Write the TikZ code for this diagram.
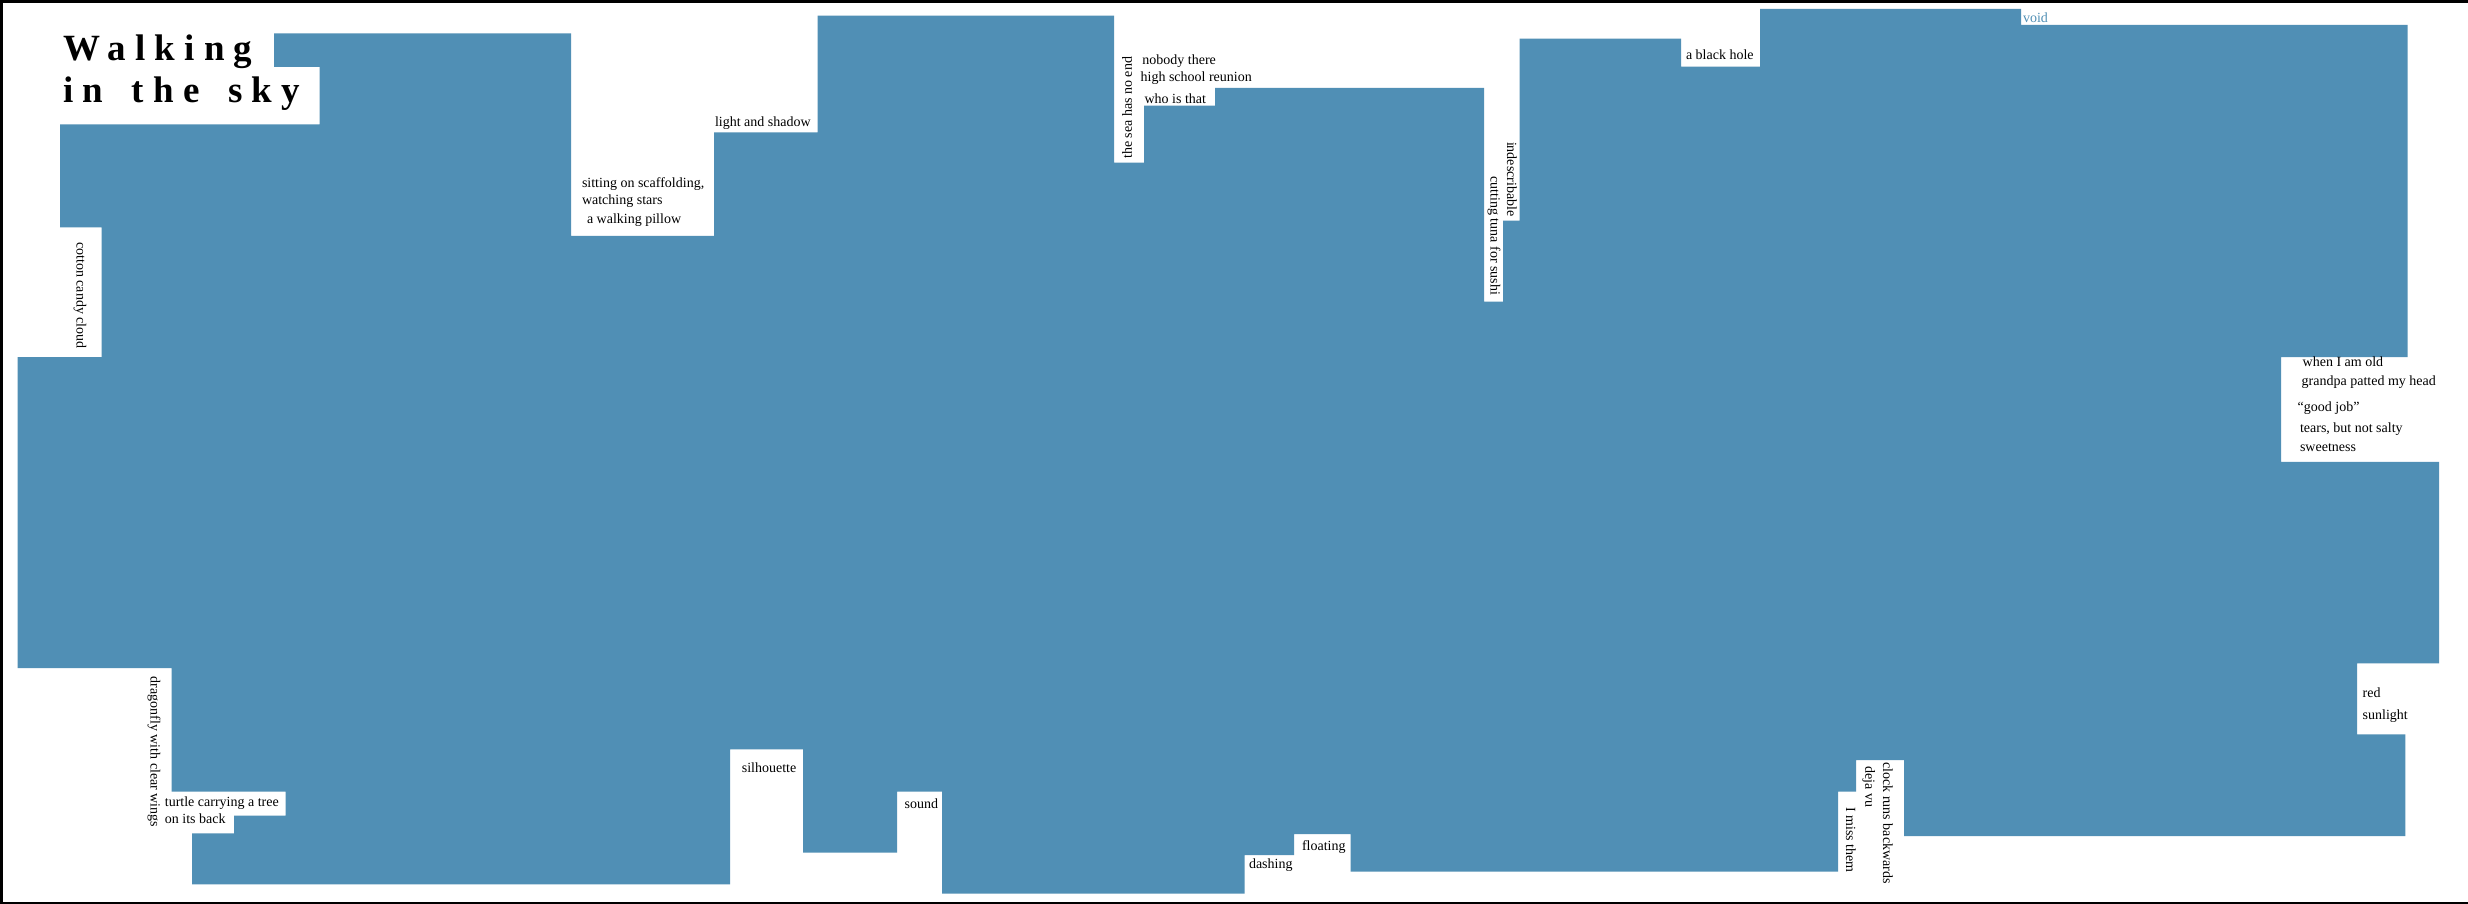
\documentclass[tikz,border=0pt]{standalone}
\usepackage{fontspec}
\setmainfont{Liberation Serif}
\newfontfamily\titlefont{Liberation Serif}[LetterSpace=25]
\definecolor{sky}{RGB}{80,143,181}
\begin{document}
\begin{tikzpicture}[x=1pt,y=-1pt,
  lbl/.style={inner sep=0pt, outer sep=0pt, font=\fontsize{14}{17}\selectfont, anchor=base west},
  vlbl/.style={inner sep=0pt, outer sep=0pt, font=\fontsize{14}{17}\selectfont, anchor=center},
  ttl/.style={inner sep=0pt, outer sep=0pt, font=\titlefont\bfseries\fontsize{37}{42}\selectfont, anchor=base west},
  frame/.style={draw=black, line width=3pt}]
\useasboundingbox (0,0) rectangle (2468,904);
\fill[white] (0,0) rectangle (2468,904);
% the sky shape
\fill[sky] (274,33.3) -- (571,33.3) -- (571,236) -- (714,236) -- (714,132.3)
  -- (817.6,132.3) -- (817.6,15.7) -- (1114,15.7) -- (1114,162.7) -- (1144,162.7)
  -- (1144,105.7) -- (1215,105.7) -- (1215,88) -- (1484,88) -- (1484,301.7)
  -- (1503,301.7) -- (1503,220.7) -- (1519.6,220.7) -- (1519.6,38.7) -- (1681,38.7)
  -- (1681,66.7) -- (1760,66.7) -- (1760,9) -- (2021,9) -- (2021,25)
  -- (2407.5,25) -- (2407.5,357) -- (2281,357) -- (2281,461.8) -- (2439,461.8)
  -- (2439,663.3) -- (2357,663.3) -- (2357,734.3) -- (2405.4,734.3) -- (2405.4,836)
  -- (1904,836) -- (1904,760) -- (1856,760) -- (1856,791.7) -- (1838,791.7)
  -- (1838,871.7) -- (1350.6,871.7) -- (1350.6,834) -- (1294,834) -- (1294,855)
  -- (1244.6,855) -- (1244.6,893.5) -- (942,893.5) -- (942,791.5) -- (897,791.5)
  -- (897,852.7) -- (803,852.7) -- (803,749.3) -- (730,749.3) -- (730,884.3)
  -- (192,884.3) -- (192,833.4) -- (234,833.4) -- (234,815.6) -- (285.6,815.6)
  -- (285.6,791.6) -- (171.5,791.6) -- (171.5,668) -- (17.5,668) -- (17.5,357)
  -- (101.7,357) -- (101.7,227.3) -- (60,227.3) -- (60,124.3) -- (319.5,124.3)
  -- (319.5,67) -- (274,67) -- cycle;
% frame (top, left, bottom)
\draw[frame] (2468,1.5) -- (1.5,1.5) -- (1.5,903);
\draw[draw=black, line width=2pt] (0,903) -- (2468,903);
% title
\node[ttl] (title1) at (63.3,61) {Walking};
\node[ttl] (title2) at (63.3,102.7) {in\hspace{10pt} the\hspace{10pt} sky};
% horizontal labels
\node[lbl] (sit1) at (582,188) {sitting on scaffolding,};
\node[lbl] (sit2) at (582,205) {watching stars};
\node[lbl] (sit3) at (587,224) {a walking pillow};
\node[lbl] (light) at (715,126.7) {light and shadow};
\node[lbl] (nobody) at (1142.4,65) {nobody there};
\node[lbl] (school) at (1140.6,81.7) {high school reunion};
\node[lbl] (who) at (1144.6,104) {who is that};
\node[lbl] (hole) at (1686,60) {a black hole};
\node[lbl, text=sky] (void) at (2023,22.7) {void};
\node[lbl] (old) at (2302.7,366.8) {when I am old};
\node[lbl] (grandpa) at (2301.7,385.7) {grandpa patted my head};
\node[lbl] (goodjob) at (2297.7,411.4) {“good job”};
\node[lbl] (tears) at (2300,432.9) {tears, but not salty};
\node[lbl] (sweet) at (2300,451.8) {sweetness};
\node[lbl] (red) at (2362.7,697) {red};
\node[lbl] (sun) at (2362.7,719.6) {sunlight};
\node[lbl] (turtle1) at (164.9,806.7) {turtle carrying a tree};
\node[lbl] (turtle2) at (164.9,823.3) {on its back};
\node[lbl] (silh) at (741.8,772) {silhouette};
\node[lbl] (sound) at (904.7,808.3) {sound};
\node[lbl] (dash) at (1249,868.3) {dashing};
\node[lbl] (float) at (1302,850) {floating};
% vertical labels
\node[vlbl, rotate=-90] (cotton) at (80,295.5) {cotton candy cloud};
\node[vlbl, rotate=90] (sea) at (1127,107.9) {the sea has no end};
\node[vlbl, rotate=-90] (tuna) at (1494,235.9) {cutting tuna for sushi};
\node[vlbl, rotate=-90] (indes) at (1512,179.4) {indescribable};
\node[vlbl, rotate=-90] (dragon) at (154,752) {dragonfly with clear wings};
\node[vlbl, rotate=-90] (clock) at (1888,823) {clock runs backwards};
\node[vlbl, rotate=-90] (deja) at (1868.8,787) {deja vu};
\node[vlbl, rotate=-90] (miss) at (1851,840) {I miss them};
\end{tikzpicture}
\end{document}
